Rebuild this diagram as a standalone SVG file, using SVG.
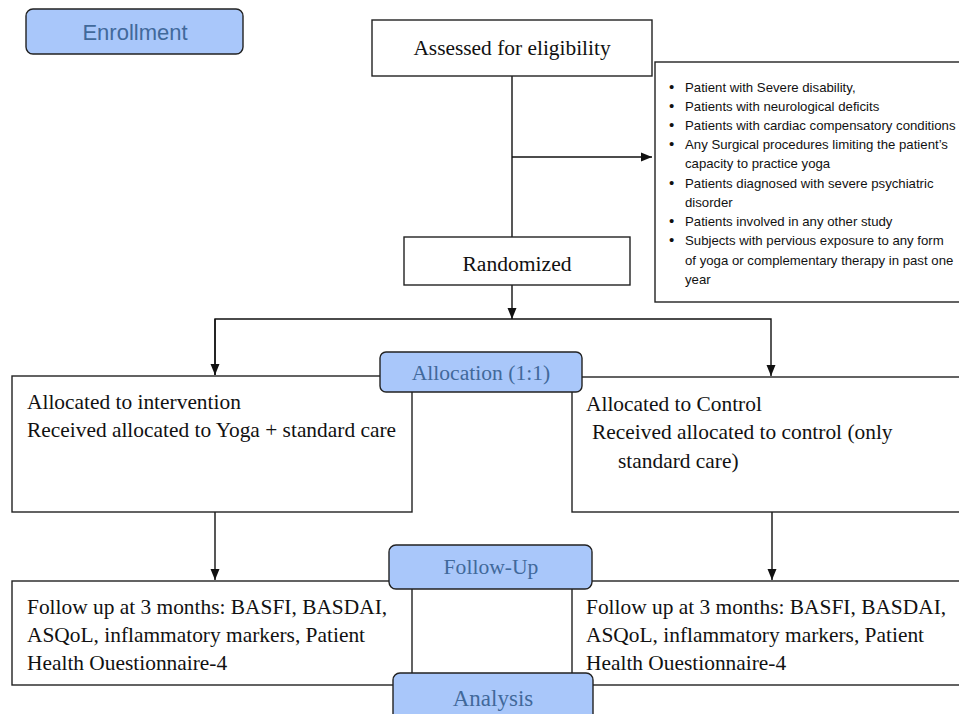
<svg xmlns="http://www.w3.org/2000/svg" width="959" height="714" viewBox="0 0 959 714">
<style>
.box{fill:#fff;stroke:#222;stroke-width:1.4}
.phase{fill:#a9c7fa;stroke:#222;stroke-width:1.4}
.serif{font-family:"Liberation Serif","Times New Roman",serif;font-size:21.4px;fill:#111}
.ptxt{font-family:"Liberation Serif","Times New Roman",serif;font-size:21.6px;fill:#41699b;text-anchor:middle}
.sans{font-family:"Liberation Sans",Arial,sans-serif;font-size:13.2px;fill:#111}
.bul{font-size:15px}
.conn{fill:none;stroke:#111;stroke-width:1.4}
</style>
<defs>
<marker id="arr" markerWidth="11" markerHeight="11" viewBox="0 0 11 10" refX="11" refY="5" orient="auto" markerUnits="userSpaceOnUse">
<path d="M0,0.5 L11,5 L0,9.5 Z" fill="#111"/>
</marker>
</defs>
<rect width="959" height="714" fill="#fff"/>

<g id="connectors">
<line class="conn" x1="512" y1="76" x2="512" y2="237"/>
<line class="conn" x1="512" y1="157" x2="652" y2="157" marker-end="url(#arr)"/>
<line class="conn" x1="512" y1="285" x2="512" y2="319" marker-end="url(#arr)"/>
<polyline class="conn" points="215,375 215,319 771,319 771,376" marker-end="url(#arr)"/>
<line class="conn" x1="215" y1="319" x2="215" y2="375" marker-end="url(#arr)"/>
<line class="conn" x1="215" y1="512" x2="215" y2="580" marker-end="url(#arr)"/>
<line class="conn" x1="772" y1="512" x2="772" y2="580" marker-end="url(#arr)"/>
</g>

<g id="assessed">
<rect class="box" x="372" y="20" width="280" height="56"/>
<text class="serif" x="512" y="55" text-anchor="middle">Assessed for eligibility</text>
</g>

<g id="exclusion">
<rect class="box" x="655" y="62" width="310" height="240"/>
<g class="sans">
<text class="bul" x="669" y="92">•</text><text x="685" y="92">Patient with Severe disability,</text>
<text class="bul" x="669" y="111">•</text><text x="685" y="111">Patients with neurological deficits</text>
<text class="bul" x="669" y="130">•</text><text x="685" y="130">Patients with cardiac compensatory conditions</text>
<text class="bul" x="669" y="149">•</text><text x="685" y="149">Any Surgical procedures limiting the patient’s</text>
<text x="685" y="168">capacity to practice yoga</text>
<text class="bul" x="669" y="188">•</text><text x="685" y="188">Patients diagnosed with severe psychiatric</text>
<text x="685" y="207">disorder</text>
<text class="bul" x="669" y="226">•</text><text x="685" y="226">Patients involved in any other study</text>
<text class="bul" x="669" y="245">•</text><text x="685" y="245">Subjects with pervious exposure to any form</text>
<text x="685" y="265">of yoga or complementary therapy in past one</text>
<text x="685" y="284">year</text>
</g>
</g>

<g id="randomized">
<rect class="box" x="404" y="237" width="226" height="48"/>
<text class="serif" x="517" y="271" text-anchor="middle" style="font-size:21.6px">Randomized</text>
</g>

<g id="intervention">
<rect class="box" x="12" y="376" width="400" height="136"/>
<text class="serif" x="27" y="409">Allocated to intervention</text>
<text class="serif" x="27" y="437">Received allocated to Yoga + standard care</text>
</g>

<g id="control">
<rect class="box" x="572" y="377" width="400" height="135"/>
<text class="serif" x="586" y="411">Allocated to Control</text>
<text class="serif" x="592" y="439">Received allocated to control (only</text>
<text class="serif" x="618" y="468">standard care)</text>
</g>

<g id="followup-left">
<rect class="box" x="12" y="581" width="400" height="104"/>
<text class="serif" x="27" y="614">Follow up at 3 months: BASFI, BASDAI,</text>
<text class="serif" x="27" y="642">ASQoL, inflammatory markers, Patient</text>
<text class="serif" x="27" y="670">Health Ouestionnaire-4</text>
</g>

<g id="followup-right">
<rect class="box" x="572" y="581" width="400" height="104"/>
<text class="serif" x="586" y="614">Follow up at 3 months: BASFI, BASDAI,</text>
<text class="serif" x="586" y="642">ASQoL, inflammatory markers, Patient</text>
<text class="serif" x="586" y="670">Health Ouestionnaire-4</text>
</g>

<g id="enrollment">
<rect class="phase" x="26" y="9" width="217" height="45" rx="7"/>
<text x="135" y="40" text-anchor="middle" style="font-family:'Liberation Sans',Arial,sans-serif;font-size:22px;fill:#41699b">Enrollment</text>
</g>

<g id="allocation">
<rect class="phase" x="380" y="352" width="202" height="40" rx="6"/>
<text class="ptxt" x="481" y="380">Allocation (1:1)</text>
</g>

<g id="followup">
<rect class="phase" x="389" y="545" width="203" height="44" rx="7"/>
<text class="ptxt" x="491" y="574">Follow-Up</text>
</g>

<g id="analysis">
<rect class="phase" x="393" y="673" width="200" height="50" rx="7"/>
<text class="ptxt" x="493" y="706" style="font-size:23px">Analysis</text>
</g>
</svg>
